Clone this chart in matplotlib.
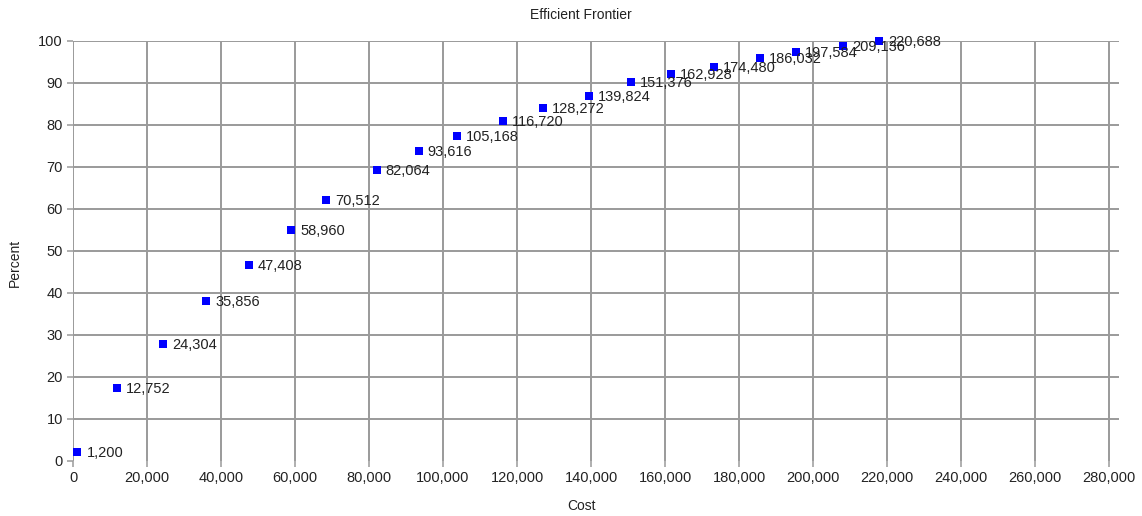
"""Efficient Frontier scatter: cost vs percent, each point tagged with its cost label."""
import matplotlib
matplotlib.use("Agg")
import matplotlib.pyplot as plt
from matplotlib.ticker import FuncFormatter

plt.rcParams["font.family"] = ["Liberation Sans", "DejaVu Sans"]

# point positions
cost = [1200, 11800, 24300, 36000, 47570, 58900, 68470, 82070, 93420, 103780,
        116220, 127030, 139550, 150810, 161620, 173330, 185680, 195400, 208200, 217840]
percent = [2.1, 17.3, 27.9, 38.1, 46.6, 55.1, 62.2, 69.3, 73.9, 77.5,
           81.0, 84.1, 87.0, 90.2, 92.1, 93.8, 95.9, 97.3, 98.8, 100.1]
point_labels = ["1,200", "12,752", "24,304", "35,856", "47,408", "58,960", "70,512",
                "82,064", "93,616", "105,168", "116,720", "128,272", "139,824",
                "151,376", "162,928", "174,480", "186,032", "197,584", "209,136",
                "220,688"]
x_ticks = list(range(0, 280001, 20000))
y_ticks = list(range(0, 101, 10))

GRID = "#9a9a9a"
TXT = "#222222"

fig = plt.figure(figsize=(11.42, 5.16), dpi=100)
ax = fig.add_axes([73 / 1142, 1 - 461 / 516, (1119 - 73) / 1142, (461 - 41) / 516])

ax.scatter(cost, percent, marker="s", s=40, color="#0000ff", linewidths=0,
           zorder=3, clip_on=False)
for x, y, lab in zip(cost, percent, point_labels):
    ax.annotate(lab, (x, y), xytext=(6.5, -0.8), textcoords="offset points",
                ha="left", va="center", fontsize=10.5, color=TXT, zorder=4,
                annotation_clip=False)

ax.set_xlim(0, 282700)
ax.set_ylim(0, 100)
ax.set_xticks(x_ticks)
ax.set_yticks(y_ticks)
ax.xaxis.set_major_formatter(FuncFormatter(lambda v, _: f"{int(v):,}"))
ax.grid(True, color=GRID, linewidth=1.4)
ax.yaxis.get_gridlines()[0].set_visible(False)
ax.set_axisbelow(True)
for s in ax.spines.values():
    s.set_visible(False)
ax.tick_params(length=4.3, width=1.1, color=GRID, labelsize=10.5,
               labelcolor=TXT, pad=3)

fig.text(581 / 1142, 1 - 15 / 516, "Efficient Frontier", ha="center", va="center",
         fontsize=10, color=TXT)
fig.text(581 / 1142, 1 - 506 / 516, "Cost", ha="center", va="center",
         fontsize=10, color=TXT)
fig.text(15 / 1142, 1 - 263 / 516, "Percent", ha="center", va="center",
         rotation=90, fontsize=10, color=TXT)

fig.savefig("out.png", dpi=100)
